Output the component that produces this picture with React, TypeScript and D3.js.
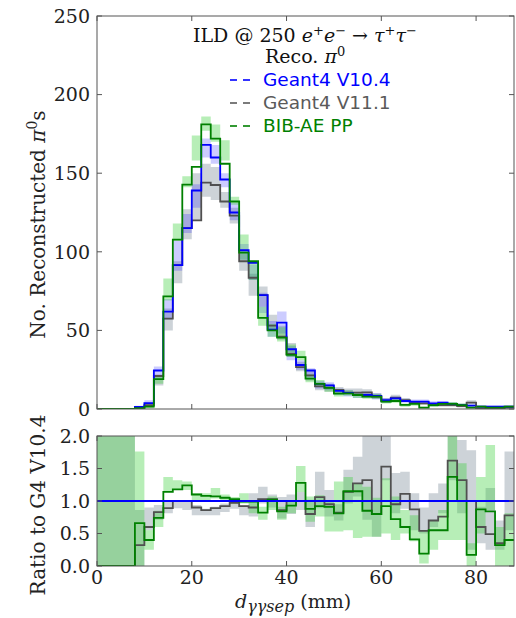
import React from "react";
import * as d3 from "d3";

// bin edges (mm)
const binEdges = [0, 2, 4, 6, 8, 10, 12, 14, 16, 18, 20, 22, 24, 26, 28, 30, 32, 34, 36, 38, 40, 42, 44, 46, 48, 50, 52, 54, 56, 58, 60, 62, 64, 66, 68, 70, 72, 74, 76, 78, 80, 82, 84, 86, 88];

// counts per bin
const g4v104 = [0, 0, 0, 0, 1.3, 3.8, 24.5, 62, 91.5, 115, 139, 168, 160, 146, 125, 101, 93, 72.5, 50.5, 55, 38, 28, 24.5, 16, 15, 11.5, 10.2, 8.9, 8.9, 8.3, 5.7, 6.8, 5.1, 4.7, 4.7, 3.6, 4.0, 3.2, 2.5, 2.1, 1.5, 1.5, 1.5, 1.5];
const g4v111 = [0, 0, 0, 0, 0.5, 2.5, 21, 57.5, 91.5, 115, 120, 144, 142.5, 132, 123, 94, 83.5, 72.5, 53, 46, 35, 26.7, 21.4, 14.4, 13.6, 12.1, 10.4, 10.4, 10.6, 7.9, 5.1, 7.2, 5.7, 4.0, 3.6, 2.5, 2.5, 2.5, 1.9, 4.0, 0.4, 0.4, 0.4, 0.85];
const bibae = [0, 0, 0, 0, 0.5, 1.5, 19, 71.7, 107.7, 142.7, 154, 181, 172, 156, 132, 99.5, 94, 58, 50, 45.4, 34.4, 33, 19.3, 16, 13.4, 9.8, 10, 8.9, 7.9, 7.9, 4.7, 5.1, 2.6, 3.2, 0.85, 2.5, 3.2, 3.2, 2.5, 0.85, 1.5, 0.85, 0.85, 1.5];

// uncertainty bands (low / high) per bin
const g4v104Lo = [0, 0, 0, 0, 0.5, 2.5, 20, 57, 88, 112, 128, 160, 156, 141, 120, 95, 82, 61, 46, 48, 31, 25, 20, 13, 12, 9, 8, 7, 7, 6, 4, 5, 4, 3.5, 3.5, 2.5, 3, 2.5, 1.5, 1.5, 1, 1, 1, 1];
const g4v104Hi = [0, 0, 0, 0, 2, 5.5, 27, 70, 107, 124, 143, 172, 168, 150, 131, 105, 92, 74, 56, 62, 40, 31, 26, 18, 17, 13, 12, 11, 11, 10, 7, 8, 6.5, 6, 6, 5, 5, 4.5, 3.5, 3, 2.2, 2.2, 2.2, 2.2];
const g4v111Lo = [0, 0, 0, 0, 0, 1.5, 15, 50, 80, 108, 120, 135, 133, 128, 118, 88, 72, 65, 50, 44, 33, 24, 18, 12, 11, 10, 9, 9, 9, 6.5, 4, 6, 4.5, 3, 2.5, 1.5, 1.5, 1.5, 1, 3, 0, 0, 0, 0];
const g4v111Hi = [0, 0, 0, 0, 1.5, 4, 22, 64, 94, 127, 150, 156, 154, 138, 128, 100, 86, 78, 60, 53, 42, 30, 25, 17, 16, 14, 13, 13, 12.5, 10, 7, 9, 7, 5, 5, 3.5, 3.5, 3.5, 3, 5.5, 1.5, 1.5, 1.5, 1.5];
const bibaeLo = [0, 0, 0, 0, 0, 0.5, 16, 69, 107, 141, 158, 177, 170, 158, 130, 95, 82, 53, 46, 43, 33, 31, 17, 14, 11, 8, 8.5, 7, 6.5, 6.5, 3.5, 4, 1.5, 2, 0.3, 1.5, 2, 2, 1.5, 0.3, 0.8, 0.3, 0.3, 0.8];
const bibaeHi = [0, 0, 0, 0, 1.2, 2.5, 21, 83, 118, 148, 174, 186, 181, 171, 135, 111, 94, 65, 54, 52, 41, 37, 22, 18.5, 15, 12, 12, 10.5, 9.5, 9.5, 6, 6.5, 3.5, 4.5, 1.5, 3.5, 4.5, 4.5, 3.5, 1.5, 2.2, 1.5, 1.5, 2.2];

// ratios to G4 V10.4
const ratioV111 = [0, 0, 0, 0, 0.32, 0.6, 0.83, 0.89, 1.0, 1.0, 0.9, 0.86, 0.89, 0.92, 0.97, 0.92, 0.9, 1.03, 1.03, 0.86, 1.0, 1.0, 0.8, 1.06, 0.95, 0.82, 1.14, 1.27, 1.32, 0.8, 1.53, 0.95, 1.11, 0.87, 0.54, 0.7, 0.76, 1.62, 1.32, 1.0, 0.6, 0.49, 0.35, 0.78];
const ratioBib = [0, 0, 0, 0, 0.66, 0.4, 0.74, 1.14, 1.18, 1.24, 1.1, 1.08, 1.07, 1.05, 1.03, 0.99, 0.99, 0.82, 1.02, 0.84, 0.93, 1.28, 0.88, 0.92, 0.91, 0.81, 1.15, 1.15, 0.85, 0.8, 0.92, 0.72, 0.6, 0.41, 0.19, 0.55, 0.55, 1.37, 1.0, 0.17, 0.87, 0.84, 0.32, 0.4];
const ratioV111Lo = [0, 0, 0, 0, 0, 0.55, 0.71, 0.81, 0.89, 0.86, 0.78, 0.78, 0.78, 0.83, 0.88, 0.78, 0.76, 0.96, 0.9, 0.73, 0.8, 0.86, 0.6, 0.89, 0.76, 0.7, 0.96, 1.07, 0.71, 0.45, 1.32, 0.81, 0.88, 0.55, 0.5, 0.6, 0.81, 1.32, 0.81, 0.25, 0.35, 0.25, 0.25, 0.55];
const ratioV111Hi = [2.2, 2.2, 2.2, 2.2, 0.86, 0.9, 0.94, 0.99, 1.01, 0.99, 0.94, 0.88, 0.91, 0.96, 1.0, 0.94, 1.12, 1.22, 1.1, 1.06, 1.1, 1.14, 1.02, 1.45, 1.17, 0.95, 1.48, 1.68, 2.2, 2.2, 2.2, 1.43, 1.45, 1.12, 0.9, 1.12, 1.27, 2.2, 1.94, 1.78, 0.91, 1.2, 0.7, 1.76];
const ratioBibLo = [0, 0, 0, 0, 0, 0.25, 0.6, 1.14, 1.17, 1.17, 1.0, 1.01, 1.04, 0.99, 0.96, 0.96, 0.81, 0.71, 0.86, 0.71, 0.81, 1.14, 0.68, 0.76, 0.53, 0.53, 0.55, 0.43, 0.45, 0.45, 0.5, 0.4, 0.5, 0.38, 0.04, 0.25, 0.4, 0.4, 0.4, 0, 0.5, 0.86, 0, 0];
const ratioBibHi = [2.2, 2.2, 2.2, 2.2, 1.76, 0.55, 0.85, 1.37, 1.32, 1.3, 1.12, 1.12, 1.2, 1.1, 1.06, 1.12, 1.0, 0.91, 1.07, 0.91, 1.01, 1.54, 1.07, 1.09, 0.99, 1.3, 1.37, 1.27, 1.22, 1.05, 1.35, 1.07, 0.86, 0.78, 0.55, 0.7, 0.86, 2.2, 1.58, 0.35, 1.37, 1.86, 0.6, 0.81];

const topTicksY = [0, 50, 100, 150, 200, 250];
const ratioTicksY = [0, 0.5, 1.0, 1.5, 2.0];
const ticksX = [0, 20, 40, 60, 80];

const W = 516, H = 618;
const L = 97, R = 514, T1 = 16, B1 = 409, T2 = 436, B2 = 566;

const COL_BLUE = "#0000ff";
const COL_GRAY = "#505050";
const COL_GREEN = "#008000";
const BAND_BLUE = "rgba(0,0,255,0.2)";
const BAND_GRAY = "rgba(112,128,144,0.35)";
const BAND_GREEN = "rgba(50,205,50,0.35)";
const FRAME = "#555";
const SERIF = "'DejaVu Serif', serif";
const SANS = "'DejaVu Sans', sans-serif";

const x = d3.scaleLinear().domain([0, 88]).range([L, R]);
const y1 = d3.scaleLinear().domain([0, 250]).range([B1, T1]);
const y2 = d3.scaleLinear().domain([0, 2]).range([B2, T2]);

const n = binEdges.length - 1;
const idx = (i: number) => Math.min(i, n - 1);

function stepPath(vals: number[], y: d3.ScaleLinear<number, number>) {
  return d3
    .line<number>()
    .x((e) => x(e))
    .y((_, i) => y(vals[idx(i)]))
    .curve(d3.curveStepAfter)(binEdges) as string;
}

function bandPath(lo: number[], hi: number[], y: d3.ScaleLinear<number, number>) {
  return d3
    .area<number>()
    .x((e) => x(e))
    .y0((_, i) => y(lo[idx(i)]))
    .y1((_, i) => y(hi[idx(i)]))
    .curve(d3.curveStepAfter)(binEdges) as string;
}

function Frame({ top, bottom, yTicks, y, fmt }: { top: number; bottom: number; yTicks: number[]; y: d3.ScaleLinear<number, number>; fmt: (v: number) => string }) {
  return (
    <g>
      <rect x={L} y={top} width={R - L} height={bottom - top} fill="none" stroke={FRAME} strokeWidth={1} />
      {ticksX.map((t) => (
        <g key={"x" + t}>
          <line x1={x(t)} x2={x(t)} y1={bottom} y2={bottom - 5} stroke={FRAME} />
          <line x1={x(t)} x2={x(t)} y1={top} y2={top + 5} stroke={FRAME} />
        </g>
      ))}
      {yTicks.map((t) => (
        <g key={"y" + t}>
          <line x1={L} x2={L + 5} y1={y(t)} y2={y(t)} stroke={FRAME} />
          <line x1={R} x2={R - 5} y1={y(t)} y2={y(t)} stroke={FRAME} />
          <text x={L - 7} y={y(t)} dy="0.36em" textAnchor="end" fontFamily={SERIF} fontSize={19} fill="#222">
            {fmt(t)}
          </text>
        </g>
      ))}
    </g>
  );
}

export default function App() {
  return (
    <svg width={W} height={H} style={{ position: "absolute", left: 0, top: 0, background: "#fff" }}>
      <defs>
        <clipPath id="clipTop">
          <rect x={L} y={T1} width={R - L} height={B1 - T1} />
        </clipPath>
        <clipPath id="clipBot">
          <rect x={L} y={T2} width={R - L} height={B2 - T2} />
        </clipPath>
      </defs>
      <rect x={0} y={0} width={W} height={H} fill="#fff" />

      {/* top panel */}
      <g clipPath="url(#clipTop)">
        <path d={bandPath(g4v111Lo, g4v111Hi, y1)} fill={BAND_GRAY} stroke="none" />
        <path d={bandPath(g4v104Lo, g4v104Hi, y1)} fill={BAND_BLUE} stroke="none" />
        <path d={bandPath(bibaeLo, bibaeHi, y1)} fill={BAND_GREEN} stroke="none" />
        <path d={stepPath(g4v111, y1)} fill="none" stroke={COL_GRAY} strokeWidth={1.8} />
        <path d={stepPath(g4v104, y1)} fill="none" stroke={COL_BLUE} strokeWidth={1.8} />
        <path d={stepPath(bibae, y1)} fill="none" stroke={COL_GREEN} strokeWidth={1.8} />
      </g>
      <Frame top={T1} bottom={B1} yTicks={topTicksY} y={y1} fmt={(v) => String(v)} />

      {/* legend */}
      <text x={193} y={42} fontFamily={SERIF} fontSize={19} fill="#111">
        ILD @ 250{" "}
        <tspan fontStyle="italic">e</tspan>
        <tspan fontSize={13} dy={-7}>+</tspan>
        <tspan fontStyle="italic" dy={7}>e</tspan>
        <tspan fontSize={13} dy={-7}>−</tspan>
        <tspan dy={7}> → </tspan>
        <tspan fontStyle="italic">τ</tspan>
        <tspan fontSize={13} dy={-7}>+</tspan>
        <tspan fontStyle="italic" dy={7}>τ</tspan>
        <tspan fontSize={13} dy={-7}>−</tspan>
      </text>
      <text x={265} y={63} fontFamily={SERIF} fontSize={19} fill="#111">
        Reco. <tspan fontStyle="italic">π</tspan>
        <tspan fontSize={13} dy={-7}>0</tspan>
      </text>
      {[
        { label: "Geant4 V10.4", color: COL_BLUE, y: 86 },
        { label: "Geant4 V11.1", color: "#5a5a5a", y: 109 },
        { label: "BIB-AE PP", color: COL_GREEN, y: 132 },
      ].map((d) => (
        <g key={d.label}>
          <line x1={230} x2={237} y1={d.y - 6} y2={d.y - 6} stroke={d.color} strokeWidth={1.6} />
          <line x1={243} x2={250} y1={d.y - 6} y2={d.y - 6} stroke={d.color} strokeWidth={1.6} />
          <text x={263} y={d.y} fontFamily={SANS} fontSize={18.5} fill={d.color}>
            {d.label}
          </text>
        </g>
      ))}

      {/* ratio panel */}
      <g clipPath="url(#clipBot)">
        <path d={bandPath(ratioV111Lo, ratioV111Hi, y2)} fill={BAND_GRAY} stroke="none" />
        <path d={bandPath(ratioBibLo, ratioBibHi, y2)} fill={BAND_GREEN} stroke="none" />
        <path d={stepPath(ratioV111, y2)} fill="none" stroke={COL_GRAY} strokeWidth={1.8} />
        <path d={stepPath(ratioBib, y2)} fill="none" stroke={COL_GREEN} strokeWidth={1.8} />
        <line x1={L} x2={R} y1={y2(1)} y2={y2(1)} stroke={COL_BLUE} strokeWidth={1.8} />
      </g>
      <Frame top={T2} bottom={B2} yTicks={ratioTicksY} y={y2} fmt={(v) => v.toFixed(1)} />
      {ticksX.map((t) => (
        <text key={t} x={x(t)} y={584} textAnchor="middle" fontFamily={SERIF} fontSize={19} fill="#222">
          {t}
        </text>
      ))}

      {/* axis labels */}
      <text
        transform={`translate(45,${(T1 + B1) / 2 + 12}) rotate(-90)`}
        textAnchor="middle"
        fontFamily={SERIF}
        fontSize={20}
        fill="#222"
      >
        No. Reconstructed <tspan fontStyle="italic">π</tspan>
        <tspan fontSize={14} dy={-8}>0</tspan>
        <tspan dy={8}>s</tspan>
      </text>
      <text
        transform={`translate(45,${(T2 + B2) / 2 + 4}) rotate(-90)`}
        textAnchor="middle"
        fontFamily={SERIF}
        fontSize={20}
        fill="#222"
      >
        Ratio to G4 V10.4
      </text>
      <text x={235} y={608} fontFamily={SERIF} fontSize={19} fill="#222">
        <tspan fontStyle="italic">d</tspan>
        <tspan fontStyle="italic" fontSize={16} dy={4}>γγsep</tspan>
        <tspan dy={-4}> (mm)</tspan>
      </text>
    </svg>
  );
}
